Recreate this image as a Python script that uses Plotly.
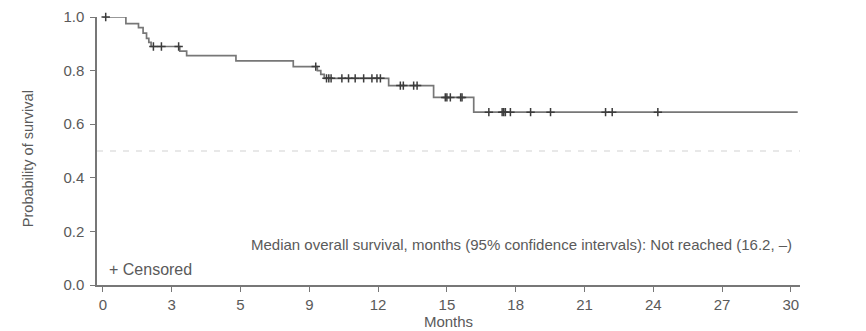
import numpy as np
import plotly.graph_objects as go

# Kaplan-Meier step data (months, survival probability after the drop)
step_times = [0, 1.0, 1.55, 1.75, 1.9, 2.0, 2.1, 3.35, 3.65, 5.8, 8.3, 9.35, 9.5, 9.65, 12.46, 14.42, 16.17, 30.3]
step_surv = [1.0, 0.975, 0.96, 0.94, 0.92, 0.905, 0.89, 0.873, 0.856, 0.836, 0.815, 0.80, 0.786, 0.771, 0.744, 0.70, 0.645, 0.645]

censor_times = [0.12, 2.2, 2.55, 3.3, 9.28, 9.75, 9.85, 9.95, 10.42, 10.71, 11.0, 11.37, 11.73, 11.95, 12.1,
                12.97, 13.1, 13.55, 13.7, 14.93, 15.0, 15.15, 15.6, 15.66,
                16.83, 17.41, 17.48, 17.55, 17.77, 18.65, 19.52, 21.92, 22.21, 24.2]

tick_vals = [0, 3, 6, 9, 12, 15, 18, 21, 24, 27, 30]
tick_text = ["0", "3", "5", "9", "12", "15", "18", "21", "24", "27", "30"]
y_ticks = [0.0, 0.2, 0.4, 0.6, 0.8, 1.0]

# survival level at censor times from the step function
st = np.array(step_times)
ss = np.array(step_surv)
censor_surv = [float(ss[np.searchsorted(st, t, side="right") - 1]) for t in censor_times]

FONT = "Liberation Sans, Arial, sans-serif"
GRAY = "#5a5a5a"

fig = go.Figure()
fig.add_trace(go.Scatter(
    x=[-0.26, 30.4], y=[0.5, 0.5], mode="lines",
    line=dict(color="#d2d2d2", width=1.2, dash="6px,7px"), hoverinfo="skip", showlegend=False))
fig.add_trace(go.Scatter(
    x=step_times, y=step_surv, mode="lines", line_shape="hv",
    line=dict(color="#777777", width=1.7), showlegend=False, cliponaxis=False))
fig.add_trace(go.Scatter(
    x=censor_times, y=censor_surv, mode="markers",
    marker=dict(symbol="cross-thin", size=6, line=dict(color="#3c3c3c", width=1.5)),
    showlegend=False, cliponaxis=False))

fig.add_annotation(x=30.12, y=0.153, xref="x", yref="y", xanchor="right", yanchor="middle",
                   text="Median overall survival, months (95% confidence intervals): Not reached (16.2, \u2013)",
                   showarrow=False, font=dict(family=FONT, size=15, color=GRAY))
fig.add_annotation(x=0.17, y=0.056, xref="x", yref="y", xanchor="left", yanchor="middle",
                   text="+ Censored", showarrow=False, font=dict(family=FONT, size=16, color=GRAY))
fig.add_annotation(x=-0.098, y=0.47, xref="paper", yref="paper", xanchor="center", yanchor="middle",
                   textangle=-90, text="Probability of survival", showarrow=False,
                   font=dict(family=FONT, size=14.5, color=GRAY))

fig.update_layout(
    width=866, height=331,
    margin=dict(l=89, r=74, t=9, b=54),
    paper_bgcolor="white", plot_bgcolor="white",
    font=dict(family=FONT, size=15, color=GRAY),
    xaxis=dict(range=[-0.26, 30.4], tickvals=tick_vals, ticktext=tick_text, automargin=False,
               showgrid=False, zeroline=False, showline=True, linecolor="#777777", linewidth=1.5,
               ticks="outside", ticklen=5, tickcolor="#777777", tickwidth=1.2,
               tickfont=dict(size=15, color=GRAY),
               title=dict(text="Months", standoff=0, font=dict(size=15, color=GRAY))),
    yaxis=dict(range=[0, 1.0], tickvals=y_ticks, tickformat=".1f", automargin=False,
               showgrid=False, zeroline=False, showline=True, linecolor="#777777", linewidth=1.5,
               ticks="outside", ticklen=5, tickcolor="#777777", tickwidth=1.2,
               ticklabelstandoff=3,
               tickfont=dict(size=15, color=GRAY)),
)

fig.write_html("out.html")
